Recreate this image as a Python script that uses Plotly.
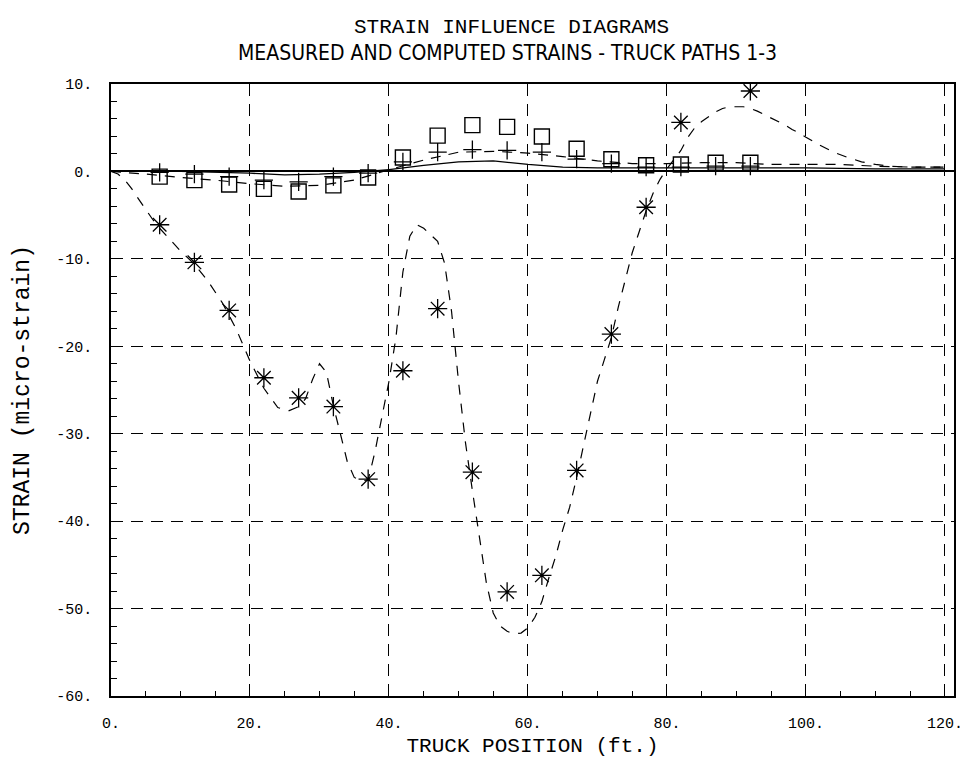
import plotly.graph_objects as go

# ---- measured data (truck positions, ft) ----
meas_x = [7, 12, 17, 22, 27, 32, 37, 42, 47, 52, 57, 62, 67, 72, 77, 82, 87, 92]
path1_meas = [-6.1, -10.4, -15.9, -23.6, -25.9, -26.9, -35.2, -22.8, -15.7, -34.4,
              -48.1, -46.2, -34.2, -18.6, -4.1, 5.6, None, 9.2]
path2_meas = [-0.1, -0.3, -0.6, -1.0, -1.2, -0.6, -0.2, 1.1, 2.2, 2.5,
              2.4, 2.2, 1.4, 0.9, 0.5, 0.5, 0.6, 0.6]
path3_meas = [-0.6, -1.0, -1.5, -2.0, -2.3, -1.6, -0.7, 1.6, 4.1, 5.3,
              5.1, 4.0, 2.6, 1.4, 0.7, 0.8, 1.0, 1.0]

# ---- computed influence lines ----
comp1_x = [0, 1, 2, 3, 4, 5, 6, 7, 8, 9, 10, 12, 14, 16, 18, 20, 22, 24, 25.5, 27,
           28, 29, 30, 31, 32, 33, 34, 35, 36, 37, 38, 39, 40, 41, 42, 43, 44, 45,
           46, 47, 48, 49, 50, 51, 52, 53, 54, 55, 56, 57, 58, 59, 60, 61, 62, 63,
           64, 65, 66, 67, 68, 69, 70, 71, 72, 73, 74, 75, 76, 77, 78, 79, 80, 81,
           82, 83, 84, 85, 86, 87, 88, 89, 90, 91, 92, 93, 94, 95, 96, 97, 98, 99,
           100, 102, 104, 106, 108, 110, 112, 115, 120]
comp1_y = [0, -0.3, -1.0, -2.0, -3.2, -4.4, -5.5, -6.5, -7.4, -8.3, -9.1, -10.6,
           -12.6, -15.0, -18.0, -21.7, -24.8, -27.0, -27.4, -26.9, -26.0, -23.8,
           -22.0, -23.0, -26.8, -30.0, -33.2, -35.0, -35.4, -35.3, -32.0, -28.0,
           -24.0, -19.0, -11.5, -7.4, -6.1, -6.5, -7.2, -8.0, -10.5, -16.0, -24.0,
           -31.0, -36.5, -42.0, -47.0, -50.5, -52.0, -52.6, -52.9, -52.8, -52.2,
           -51.0, -49.2, -46.5, -44.0, -41.0, -38.4, -35.0, -31.2, -27.4, -24.0,
           -21.5, -19.0, -15.5, -12.3, -9.3, -6.9, -4.5, -2.5, -0.9, 0.3, 1.3, 2.4,
           3.9, 5.0, 5.7, 6.3, 6.8, 7.2, 7.4, 7.4, 7.4, 7.2, 6.9, 6.5, 6.1, 5.7,
           5.3, 4.8, 4.4, 3.9, 3.0, 2.2, 1.6, 1.1, 0.8, 0.6, 0.5, 0.5]

comp2_x = [0, 5, 10, 15, 20, 25, 30, 35, 40, 45, 50, 55, 60, 65, 70, 75, 80, 85,
           90, 95, 100, 105, 110, 115, 120]
comp2_y = [0, -0.3, -0.7, -1.0, -1.4, -1.7, -1.6, -1.0, 0.2, 1.3, 2.2, 2.3, 2.1,
           1.7, 1.2, 0.9, 0.9, 1.0, 1.0, 0.8, 0.8, 0.8, 0.6, 0.5, 0.5]

comp3_x = [0, 10, 20, 25, 30, 35, 40, 45, 50, 55, 60, 65, 70, 80, 90, 100, 110, 120]
comp3_y = [0, 0, -0.2, -0.4, -0.3, -0.1, 0.2, 0.7, 1.1, 1.2, 0.8, 0.5, 0.4, 0.4,
           0.4, 0.4, 0.3, 0.3]

x_ticks = [0, 20, 40, 60, 80, 100, 120]
x_tick_text = ["0.", "20.", "40.", "60.", "80.", "100.", "120."]
y_ticks = [10, 0, -10, -20, -30, -40, -50, -60]
y_tick_text = ["10.", "0.", "-10.", "-20.", "-30.", "-40.", "-50.", "-60."]

fig = go.Figure()

fig.add_trace(go.Scatter(x=comp3_x, y=comp3_y, mode="lines",
                         line=dict(color="black", width=1.3), showlegend=False))
fig.add_trace(go.Scatter(x=comp2_x, y=comp2_y, mode="lines",
                         line=dict(color="black", width=1.2, dash="10px,8px"),
                         showlegend=False))
fig.add_trace(go.Scatter(x=comp1_x, y=comp1_y, mode="lines",
                         line=dict(color="black", width=1.2, dash="10px,9px"),
                         showlegend=False))

fig.add_trace(go.Scatter(x=meas_x, y=path3_meas, mode="markers",
                         marker=dict(symbol="square-open", size=15, color="black",
                                     line=dict(width=1.4, color="black")),
                         showlegend=False))
fig.add_trace(go.Scatter(x=meas_x, y=path2_meas, mode="markers",
                         marker=dict(symbol="cross-thin-open", size=13, color="black",
                                     line=dict(width=1.3, color="black")),
                         showlegend=False))
fig.add_trace(go.Scatter(x=meas_x, y=path1_meas, mode="markers",
                         marker=dict(symbol="asterisk-open", size=16, color="black",
                                     line=dict(width=1.3, color="black")),
                         showlegend=False))

mono = "Liberation Mono, DejaVu Sans Mono, monospace"
tick_font = dict(family=mono, size=15, color="black")

fig.update_layout(
    width=970, height=766,
    margin=dict(l=103, r=24, t=76, b=78),
    paper_bgcolor="white", plot_bgcolor="white",
    font=dict(family=mono, color="black"),
    annotations=[
        dict(text="STRAIN INFLUENCE DIAGRAMS", xref="paper", yref="paper",
             x=0.475, y=1.0, yshift=57, showarrow=False, xanchor="center",
             yanchor="middle",
             font=dict(family=mono, size=21, color="black")),
        dict(text="MEASURED AND COMPUTED STRAINS - TRUCK PATHS 1-3", xref="paper",
             yref="paper", x=0.47, y=1.0, yshift=31, showarrow=False,
             xanchor="center", yanchor="middle",
             font=dict(family="Liberation Sans Narrow, DejaVu Sans Condensed, sans-serif",
                       size=21, color="black")),
    ],
)

fig.update_xaxes(
    range=[0, 121.3], tickmode="array", tickvals=x_ticks, ticktext=x_tick_text,
    ticks="inside", ticklen=9, tickwidth=1, tickcolor="black",
    minor=dict(dtick=5, tick0=0, ticks="inside", ticklen=5, tickcolor="black"),
    showline=True, linecolor="black", linewidth=1.5, mirror=True,
    showgrid=True, gridcolor="black", gridwidth=1, griddash="12px,8px",
    zeroline=False, tickfont=tick_font, ticklabelstandoff=12, automargin=False,
    title=dict(text="TRUCK POSITION (ft.)", font=dict(family=mono, size=21, color="black"),
               standoff=6),
)
fig.update_yaxes(
    range=[-60, 10], tickmode="array", tickvals=y_ticks, ticktext=y_tick_text,
    ticks="inside", ticklen=7, tickwidth=1, tickcolor="black",
    minor=dict(dtick=2, tick0=0, ticks="inside", ticklen=6, tickcolor="black"),
    showline=True, linecolor="black", linewidth=1.5, mirror=True,
    showgrid=True, gridcolor="black", gridwidth=1, griddash="12px,8px",
    zeroline=True, zerolinecolor="black", zerolinewidth=1.5,
    tickfont=tick_font, ticklabelstandoff=14, automargin=False,
    title=dict(text="STRAIN (micro-strain)", font=dict(family=mono, size=23, color="black"),
               standoff=20),
)

fig.write_html("out.html")
